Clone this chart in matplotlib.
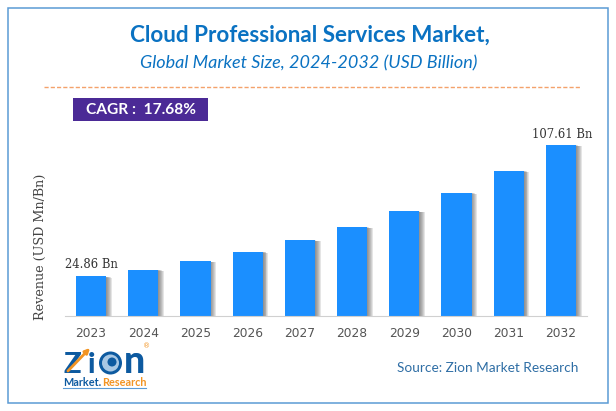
import matplotlib
matplotlib.use("Agg")
import matplotlib.pyplot as plt
from matplotlib.patches import Circle, Rectangle

years = ["2023", "2024", "2025", "2026", "2027", "2028", "2029", "2030", "2031", "2032"]
revenue = [24.86, 29.2, 34.4, 40.5, 47.7, 56.0, 66.0, 77.6, 91.3, 107.61]
first_label = "24.86 Bn"
last_label = "107.61 Bn"

W, H = 616, 411
fig = plt.figure(figsize=(W / 100, H / 100), dpi=100, facecolor="white")

# page layer, in pixels from the top left
page = fig.add_axes([0, 0, 1, 1])
page.set_xlim(0, W)
page.set_ylim(H, 0)
page.axis("off")

page.add_patch(Rectangle((7.5, 8.5), 600, 394, fill=False, ec="#5b9bd5", lw=1.1))
page.text(309.5, 35, "Cloud Professional Services Market,", family="Lato", weight="bold",
          fontsize=16.2, color="#0a72c2", ha="center", va="center")
page.text(308.5, 63, "Global Market Size, 2024-2032 (USD Billion)", family="Lato", style="italic",
          fontsize=13, color="#0a72c2", ha="center", va="center")
page.plot([44, 580], [87.5, 87.5], color="#f4a26b", lw=1, ls=(0, (3, 1.5)))

page.add_patch(Rectangle((73, 98), 135, 23, fc="#4b2a96", ec="none"))
page.text(140.5, 110, "CAGR :  17.68%", family="Lato", weight="bold", fontsize=11.2,
          color="white", ha="center", va="center")

page.text(40, 247, "Revenue (USD Mn/Bn)", family="DejaVu Serif", fontsize=9.2, color="#444444",
          rotation=90, ha="center", va="center")
page.text(488, 367.5, "Source: Zion Market Research", family="Lato", fontsize=9.8,
          color="#2f6ea5", ha="center", va="center")

# logo
page.text(63, 373, "Z", family="Lato", weight="black", fontsize=21, color="#0d5aa0", ha="left", va="baseline")
page.text(88, 373, "i", family="Lato", weight="black", fontsize=21, color="#0d5aa0", ha="left", va="baseline")
page.add_patch(Circle((110.5, 363), 11.5, fc="#0d5aa0", ec="none"))
page.add_patch(Circle((110.5, 363), 8.5, fc="#a9c8e4", ec="none"))
page.add_patch(Circle((112, 362), 4.5, fc="#0d5aa0", ec="none"))
page.text(123.5, 373, "n", family="Lato", weight="black", fontsize=27, color="#0d5aa0", ha="left", va="baseline")
page.annotate("", xy=(92, 346), xytext=(66, 373),
              arrowprops=dict(arrowstyle="-|>", color="#f29423", lw=2, mutation_scale=7))
page.text(147, 346, "®", family="DejaVu Sans", fontsize=5, color="#f29423", ha="center", va="center")
page.text(63, 382.5, "Market.", family="Lato", weight="bold", fontsize=7.8, color="#0d5aa0", ha="left", va="center")
page.text(102, 382.5, "Research", family="Lato", weight="bold", fontsize=7.8, color="#f29423", ha="left", va="center")
page.plot([63, 146], [388, 388], color="#5b9bd5", lw=0.8)

# chart, baseline at y=316 and x from 65 to 587
ax = fig.add_axes([65 / W, 1 - 316 / H, 522 / W, 186 / H])
ax.patch.set_alpha(0)
ax.set_xlim(-0.5, 9.5)
ax.set_ylim(0, 117.05)
x = list(range(len(years)))

# soft shadow on the right side of each bar
for step in range(1, 7):
    shift = step * 0.018
    ax.bar([i + shift for i in x], [v - step * 0.12 for v in revenue], width=0.575,
           color="#555555", alpha=0.15, lw=0)
ax.bar(x, revenue, width=0.575, color="#1b8fff", lw=0)

ax.text(x[0], revenue[0] + 7.6, first_label, family="DejaVu Serif", fontsize=8.4, color="#333333",
        ha="center", va="center")
ax.text(x[-1] + 0.02, revenue[-1] + 6.9, last_label, family="DejaVu Serif", fontsize=8.4, color="#333333",
        ha="center", va="center")

ax.set_xticks(x, years)
ax.tick_params(axis="x", length=0, pad=8, labelsize=8.8, labelcolor="#555555")
ax.set_yticks([])
for side in ["top", "left", "right"]:
    ax.spines[side].set_visible(False)
ax.spines["bottom"].set_color("#d0d0d0")

fig.savefig("out.png", dpi=100)
